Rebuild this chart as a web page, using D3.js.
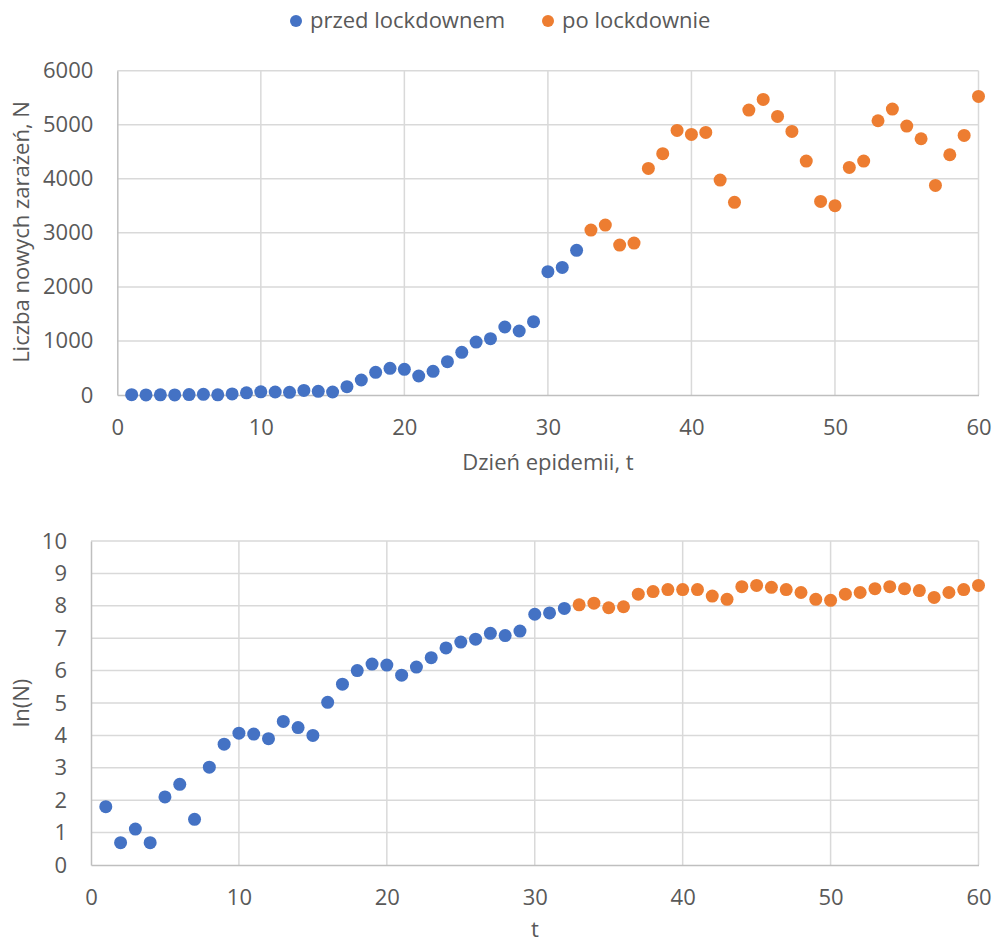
<!DOCTYPE html>
<html>
<head>
<meta charset="utf-8">
<script src="https://cdn.jsdelivr.net/npm/d3@7"></script>
<style>
  body { margin: 0; background: #fff; }
  text { font-family: "Open Sans", "Noto Sans", sans-serif; fill: #595959; }
</style>
</head>
<body>
<div id="chart"></div>
<script>
// days
const daysBefore = d3.range(1, 33);
const daysAfter = d3.range(33, 61);

// new cases N (top chart)
const casesBefore = [6, 2, 3, 2, 8, 12, 4, 20, 40, 59, 56, 49, 84, 68, 55,
  154, 277, 420, 493, 475, 351, 438, 616, 789, 980, 1042, 1258, 1184, 1356, 2281, 2361, 2676];
const casesAfter = [3052, 3144, 2774, 2811, 4192, 4464, 4895, 4821, 4858, 3977, 3564,
  5271, 5469, 5154, 4877, 4328, 3582, 3502, 4211, 4328, 5074, 5290, 4975, 4741, 3878, 4445, 4803, 5524];

// ln(N) (bottom chart)
const lnBefore = [1.80, 0.69, 1.11, 0.69, 2.10, 2.49, 1.41, 3.02, 3.73, 4.07, 4.04, 3.90, 4.43, 4.24, 4.00,
  5.02, 5.58, 6.00, 6.20, 6.17, 5.86, 6.11, 6.40, 6.70, 6.88, 6.97, 7.15, 7.08, 7.22, 7.74, 7.78, 7.92];
const lnAfter = [8.03, 8.08, 7.94, 7.97, 8.36, 8.44, 8.50, 8.50, 8.50, 8.30, 8.20,
  8.59, 8.63, 8.57, 8.50, 8.41, 8.20, 8.17, 8.36, 8.41, 8.53, 8.59, 8.53, 8.47, 8.26, 8.41, 8.50, 8.63];

const seriesNames = ["przed lockdownem", "po lockdownie"];
const colors = ["#4472C4", "#ED7D31"];

const width = 995, height = 943;
const svg = d3.select("#chart").append("svg")
  .attr("width", width)
  .attr("height", height);

// legend
const legend = svg.append("g");
const legendX = [296, 548];
seriesNames.forEach((name, i) => {
  legend.append("circle")
    .attr("cx", legendX[i]).attr("cy", 21).attr("r", 6)
    .attr("fill", colors[i]);
  legend.append("text")
    .attr("x", legendX[i] + 14).attr("y", 28)
    .style("font-size", "22px")
    .text(name);
});

function drawPanel(cfg) {
  const x = d3.scaleLinear().domain([0, 60]).range([cfg.left, 978.5]);
  const y = d3.scaleLinear().domain([0, cfg.yMax]).range([cfg.bottom, cfg.top]);
  const g = svg.append("g");

  // grid
  g.selectAll(".vgrid")
    .data(d3.range(10, 61, 10))
    .enter().append("line")
    .attr("x1", d => x(d)).attr("x2", d => x(d))
    .attr("y1", cfg.top).attr("y2", cfg.bottom)
    .attr("stroke", "#d9d9d9").attr("stroke-width", 1.5);
  g.selectAll(".hgrid")
    .data(cfg.yTicks.slice(1))
    .enter().append("line")
    .attr("x1", cfg.left).attr("x2", x(60))
    .attr("y1", d => y(d)).attr("y2", d => y(d))
    .attr("stroke", "#d9d9d9").attr("stroke-width", 1.5);

  // axes
  const xAxis = g.append("g")
    .attr("transform", `translate(0,${cfg.bottom})`)
    .call(d3.axisBottom(x).tickValues(d3.range(0, 61, 10)).tickFormat(d3.format("d"))
      .tickSize(0).tickPadding(24));
  xAxis.select(".domain").attr("stroke", "#bfbfbf").attr("stroke-width", 1.5);
  xAxis.selectAll("text").style("font-size", "22px").style("font-family", null);

  const yAxis = g.append("g")
    .attr("transform", `translate(${cfg.left},0)`)
    .call(d3.axisLeft(y).tickValues(cfg.yTicks).tickFormat(d3.format("d"))
      .tickSize(0).tickPadding(24));
  yAxis.select(".domain").attr("stroke", "#bfbfbf").attr("stroke-width", 1.5);
  yAxis.selectAll("text").style("font-size", "22px").style("font-family", null);

  // points
  [[daysBefore, cfg.before], [daysAfter, cfg.after]].forEach(([days, vals], i) => {
    g.selectAll(".pt" + i)
      .data(vals)
      .enter().append("circle")
      .attr("cx", (d, j) => x(days[j]))
      .attr("cy", d => y(d))
      .attr("r", 6.5)
      .attr("fill", colors[i]);
  });

  // axis titles
  g.append("text")
    .attr("transform", "rotate(-90)")
    .attr("x", -cfg.yTitleY).attr("y", 29)
    .attr("text-anchor", "middle")
    .style("font-size", "22px")
    .text(cfg.yTitle);
  g.append("text")
    .attr("x", cfg.xTitleX).attr("y", cfg.xTitleBase)
    .attr("text-anchor", "middle")
    .style("font-size", "22px")
    .text(cfg.xTitle);
}

drawPanel({
  left: 117.3, top: 70.7, bottom: 395, yMax: 6000,
  yTicks: d3.range(0, 6001, 1000),
  before: casesBefore, after: casesAfter,
  yTitle: "Liczba nowych zarażeń, N", yTitleY: 232,
  xTitle: "Dzień epidemii, t", xTitleX: 548, xTitleBase: 470
});

drawPanel({
  left: 91, top: 541, bottom: 865, yMax: 10,
  yTicks: d3.range(0, 11, 1),
  before: lnBefore, after: lnAfter,
  yTitle: "ln(N)", yTitleY: 703,
  xTitle: "t", xTitleX: 535, xTitleBase: 937
});
</script>
</body>
</html>
